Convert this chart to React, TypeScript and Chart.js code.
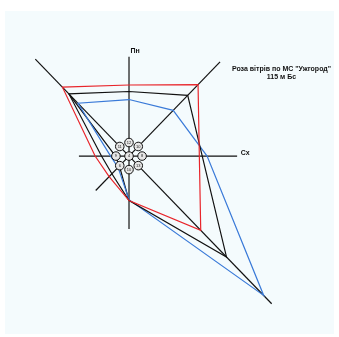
import React, { useEffect, useRef } from "react";
import { Chart, registerables } from "chart.js";

Chart.register(...registerables);

// Directions clockwise from north
const directions = ["Пн", "ПнСх", "Сх", "ПдСх", "Пд", "ПдЗх", "Зх", "ПнЗх"];
const redValues = [70.9, 100.8, 72.6, 104.7, 44.4, 29, 35, 97.2];
const blackValues = [64.4, 85.7, 75.6, 142.3, 44.4, 25, 28.4, 87.7];
const blueValues = [56.4, 64.5, 80.6, 196.6, 43.5, 16, 19, 74.5];
// second black trace on the western side: NW, W, SW, S
const blackWestDirs = [7, 6, 5, 4];
const blackWestValues = [87.7, 14, 14, 44.4];
const axisLengths = [99.2, 132.9, 111.6, 208.3, 72.8, 48.6, 51.7, 136.8];
const calmRing = 13.5;
const ringLabels = ["12", "10", "8", "13", "10", "6", "9", "11"];
const centerLabel = "4";
const titleLines = ["Роза вітрів по МС \"Ужгород\"", "115 м Бс"];
const axisLabels = ["Пн", "Сх"];

const toXY = (dirIndex: number, r: number) => {
  const a = (dirIndex * Math.PI) / 4;
  return { x: r * Math.sin(a), y: r * Math.cos(a) };
};

const polygon = (vals: number[]) => {
  const pts = vals.map((v, i) => toXY(i, v));
  pts.push(pts[0]);
  return pts;
};

export default function App() {
  const ref = useRef<HTMLCanvasElement | null>(null);

  useEffect(() => {
    if (!ref.current) return;
    const font = "bold 7px 'Liberation Sans', Arial, sans-serif";

    const bgPlugin = {
      id: "bg",
      beforeDraw(chart: any) {
        const ctx = chart.ctx;
        ctx.save();
        ctx.fillStyle = "#ffffff";
        ctx.fillRect(0, 0, chart.width, chart.height);
        ctx.fillStyle = "rgb(244,251,253)";
        ctx.fillRect(5, 11, 329, 323);
        ctx.restore();
      },
    };

    const textPlugin = {
      id: "texts",
      afterDatasetsDraw(chart: any) {
        const ctx = chart.ctx;
        const xs = chart.scales.x;
        const ys = chart.scales.y;
        ctx.save();
        ctx.fillStyle = "#111";
        ctx.font = font;
        ctx.textAlign = "center";
        ctx.textBaseline = "middle";
        // axis labels
        const n = toXY(0, axisLengths[0]);
        ctx.fillText(axisLabels[0], xs.getPixelForValue(n.x) + 6, ys.getPixelForValue(n.y) - 6);
        const e = toXY(2, axisLengths[2]);
        ctx.fillText(axisLabels[1], xs.getPixelForValue(e.x) + 8, ys.getPixelForValue(e.y) - 3);
        // title
        ctx.fillText(titleLines[0], 281.5, 69);
        ctx.fillText(titleLines[1], 281.5, 77);
        // ring labels
        ctx.font = "4px 'Liberation Sans', Arial, sans-serif";
        ctx.fillStyle = "#222";
        ringLabels.forEach((lab, i) => {
          const p = toXY(i, calmRing);
          ctx.fillText(lab, xs.getPixelForValue(p.x), ys.getPixelForValue(p.y));
        });
        ctx.fillText(centerLabel, xs.getPixelForValue(0), ys.getPixelForValue(0));
        ctx.restore();
      },
    };

    const axisSets = axisLengths.map((len, i) => ({
      label: "axis" + i,
      data: [{ x: 0, y: 0 }, toXY(i, len)],
      showLine: true,
      borderColor: "#111111",
      borderWidth: 1.2,
      pointRadius: 0,
      order: 3,
    }));

    const lineSet = (label: string, data: any[], color: string) => ({
      label,
      data,
      showLine: true,
      borderColor: color,
      borderWidth: 1.2,
      pointRadius: 0,
      tension: 0,
      order: 2,
    });

    const ringPts = directions.map((_, i) => toXY(i, calmRing));
    ringPts.push({ x: 0, y: 0 });

    const chart = new Chart(ref.current, {
      type: "scatter",
      data: {
        datasets: [
          {
            label: "calm",
            data: ringPts,
            showLine: false,
            pointRadius: 4.3,
            pointBackgroundColor: "#e6e6e6",
            pointBorderColor: "#111",
            pointBorderWidth: 1,
            order: 0,
          } as any,
          lineSet("red", polygon(redValues), "#e8252b"),
          lineSet("black", polygon(blackValues), "#111111"),
          lineSet("blue", polygon(blueValues), "#3a7ad8"),
          lineSet(
            "blackWest",
            blackWestDirs.map((d, k) => toXY(d, blackWestValues[k])),
            "#111111"
          ),
          ...axisSets,
        ],
      },
      options: {
        animation: false,
        responsive: false,
        devicePixelRatio: 1,
        layout: { padding: 0 },
        plugins: { legend: { display: false }, tooltip: { enabled: false }, title: { display: false } },
        events: [],
        scales: {
          x: { type: "linear", display: false, min: -127.7, max: 211.3 },
          y: { type: "linear", display: false, min: -175.2, max: 150.4 },
        },
      },
      plugins: [bgPlugin, textPlugin],
    });
    return () => chart.destroy();
  }, []);

  return (
    <div style={{ position: "fixed", left: 0, top: 0, width: 339, height: 337 }}>
      <canvas ref={ref} width={339} height={337} style={{ display: "block" }} />
    </div>
  );
}
